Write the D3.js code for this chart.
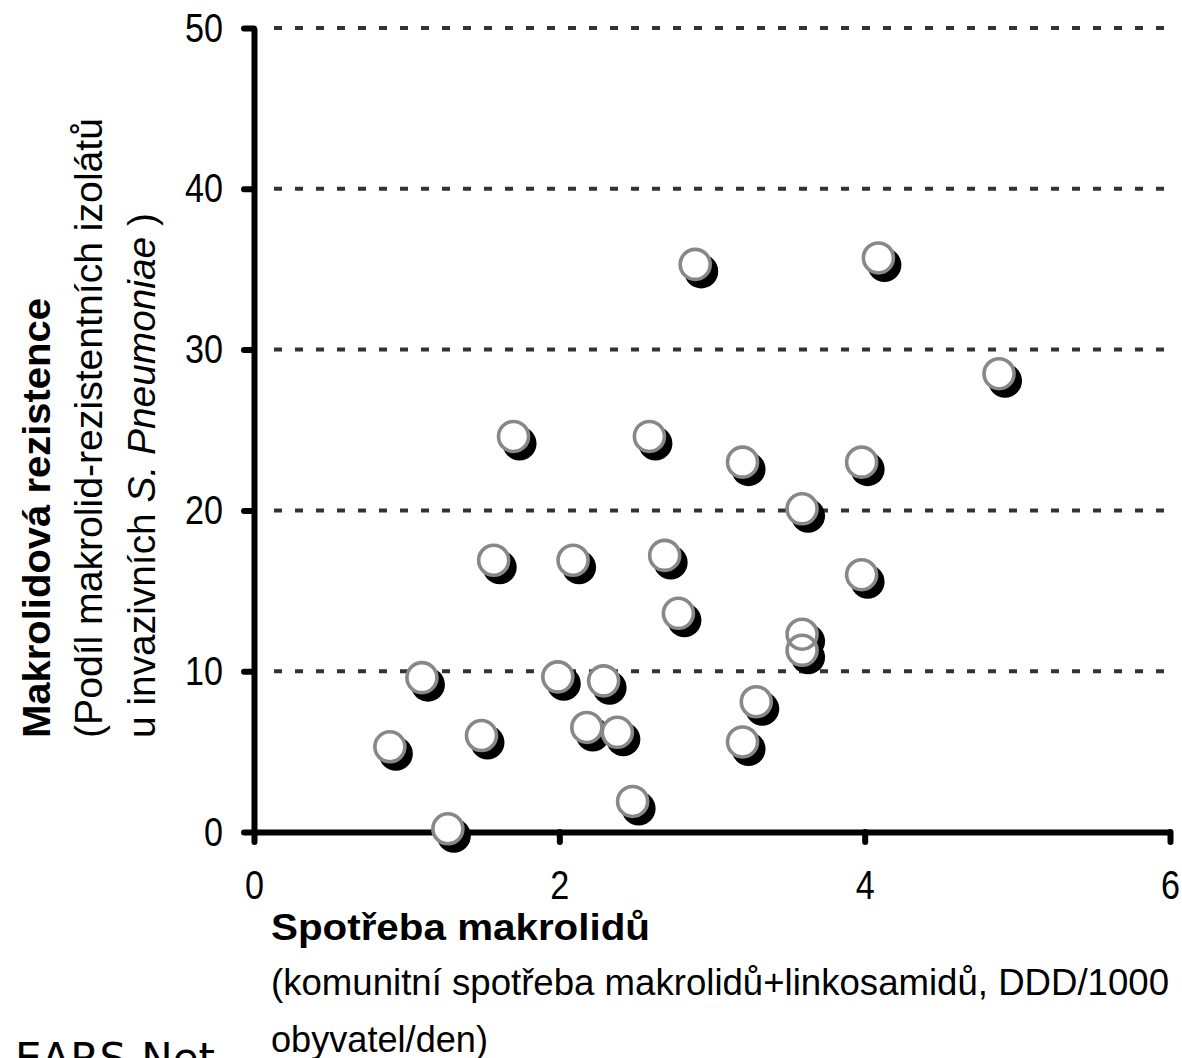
<!DOCTYPE html>
<html>
<head>
<meta charset="utf-8">
<script src="https://cdn.jsdelivr.net/npm/d3@7"></script>
<style>
  html, body { margin: 0; padding: 0; background: #fff; }
  svg { display: block; }
</style>
</head>
<body>
<svg id="chart" width="1182" height="1058"></svg>
<script>
// Data: consumption (x) vs. resistance % (y)
const consumption = [0.89, 1.10, 1.27, 1.49, 1.57, 1.70, 1.99, 2.09, 2.18, 2.29, 2.38, 2.48, 2.59, 2.69, 2.78, 2.89, 3.20, 3.20, 3.29, 3.59, 3.59, 3.59, 3.98, 3.98, 4.09, 4.88];
const resistance  = [5.3, 9.6, 0.2, 6.0, 16.9, 24.6, 9.65, 16.9, 6.5, 9.4, 6.2, 1.9, 24.6, 17.2, 13.6, 35.3, 23.0, 5.6, 8.1, 20.1, 12.3, 11.3, 23.0, 16.0, 35.7, 28.5];
const xTicks = [0, 2, 4, 6];
const yTicks = [0, 10, 20, 30, 40, 50];
const gridTicks = [10, 20, 30, 40, 50];

const points = consumption.map((c, i) => ({ x: c, y: resistance[i] }));

const svg = d3.select("#chart");
const FONT = "'Liberation Sans', Arial, sans-serif";

const x = d3.scaleLinear().domain([0, 6]).range([254, 1170]);
const y = d3.scaleLinear().domain([0, 50]).range([832, 28]);

// Gridlines
svg.append("g").selectAll("line").data(gridTicks).join("line")
  .attr("x1", 274).attr("x2", x(6))
  .attr("y1", d => y(d)).attr("y2", d => y(d))
  .attr("stroke", "#333").attr("stroke-width", 4)
  .attr("stroke-dasharray", "8,13");

// Y axis
const yAxis = svg.append("g").attr("transform", `translate(${x(0)},0)`)
  .call(d3.axisLeft(y).tickValues(yTicks).tickFormat(d3.format("d"))
    .tickSize(10).tickSizeOuter(0).tickPadding(21));
// X axis
const xAxis = svg.append("g").attr("transform", `translate(0,${y(0)})`)
  .call(d3.axisBottom(x).tickValues(xTicks).tickFormat(d3.format("d"))
    .tickSize(10).tickSizeOuter(0).tickPadding(28));

[yAxis, xAxis].forEach(g => {
  g.select(".domain").attr("stroke", "#000").attr("stroke-width", 6);
  g.selectAll(".tick line").attr("stroke", "#000").attr("stroke-width", 6).attr("stroke-linecap", "round");
  g.selectAll(".tick text").attr("fill", "#000").style("font-family", FONT).style("font-size", "41px")
    .attr("textLength", d => String(d).length * 19).attr("lengthAdjust", "spacingAndGlyphs");
});

// Markers: shadows, fills, rings
const mk = svg.append("g");
mk.append("g").selectAll("circle").data(points).join("circle")
  .attr("cx", d => x(d.x) + 6).attr("cy", d => y(d.y) + 7).attr("r", 17)
  .attr("fill", "#000");
mk.append("g").selectAll("circle").data(points).join("circle")
  .attr("cx", d => x(d.x)).attr("cy", d => y(d.y)).attr("r", 15)
  .attr("fill", "#fff");
mk.append("g").selectAll("circle").data(points).join("circle")
  .attr("cx", d => x(d.x)).attr("cy", d => y(d.y)).attr("r", 15)
  .attr("fill", "none").attr("stroke", "#888").attr("stroke-width", 3.6);

// Y axis title (rotated)
const yt = svg.append("g").style("font-family", FONT).style("font-size", "39px").attr("fill", "#000");
yt.append("text").attr("transform", "translate(50,738) rotate(-90)")
  .style("font-weight", "bold").attr("textLength", 440).attr("lengthAdjust", "spacingAndGlyphs")
  .text("Makrolidová rezistence");
yt.append("text").attr("transform", "translate(102,738) rotate(-90)")
  .attr("textLength", 620).attr("lengthAdjust", "spacingAndGlyphs")
  .text("(Podíl makrolid-rezistentních izolátů");
const l3 = yt.append("text").attr("transform", "translate(155,738) rotate(-90)")
  .attr("textLength", 525).attr("lengthAdjust", "spacingAndGlyphs");
l3.append("tspan").text("u invazivních ");
l3.append("tspan").style("font-style", "italic").text("S. Pneumoniae");
l3.append("tspan").text(" )");

// X axis title
const xt = svg.append("g").style("font-family", FONT).attr("fill", "#000");
xt.append("text").attr("x", 271).attr("y", 940)
  .style("font-weight", "bold").style("font-size", "36px")
  .attr("textLength", 379).attr("lengthAdjust", "spacingAndGlyphs")
  .text("Spotřeba makrolidů");
xt.append("text").attr("x", 271).attr("y", 995)
  .style("font-size", "37px")
  .attr("textLength", 898).attr("lengthAdjust", "spacingAndGlyphs")
  .text("(komunitní spotřeba makrolidů+linkosamidů, DDD/1000");
xt.append("text").attr("x", 271).attr("y", 1052)
  .style("font-size", "37px")
  .attr("textLength", 217).attr("lengthAdjust", "spacingAndGlyphs")
  .text("obyvatel/den)");

// Source text, cut at the bottom edge as in the reference
svg.append("text").attr("x", 215).attr("y", 1073).attr("text-anchor", "end")
  .style("font-family", "'DejaVu Sans', Verdana, sans-serif").style("font-size", "42px")
  .attr("fill", "#000").text("EARS-Net");
</script>
</body>
</html>
